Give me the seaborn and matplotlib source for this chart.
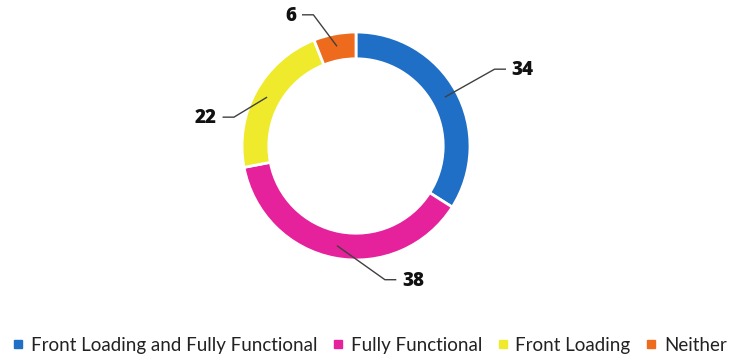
import numpy as np
import matplotlib
matplotlib.use("Agg")
import matplotlib.pyplot as plt
from matplotlib.lines import Line2D
import seaborn as sns

categories = ["Front Loading and Fully Functional", "Fully Functional",
              "Front Loading", "Neither"]
values = [34, 38, 22, 6]
colors = ["#1F6FC6", "#E5219B", "#EFEB2C", "#EE6B1E"]

sns.set_theme(style="white")
plt.rcParams["font.family"] = ["Lato", "DejaVu Sans"]

W, H = 744, 358
fig = plt.figure(figsize=(W / 100, H / 100), dpi=100)
ax = fig.add_axes([0, 0, 1, 1])

wedges, _ = ax.pie(values, colors=colors, startangle=90, counterclock=False,
                   radius=1.0,
                   wedgeprops=dict(width=0.235, edgecolor="white", linewidth=2))

# donut centre and radius in pixels, converted into data units
cx, cy, R = 356, 146, 114
ax.set_xlim(-cx / R, (W - cx) / R)
ax.set_ylim((cy - H) / R, cy / R)
ax.set_aspect("equal")
ax.axis("off")

# label layout: (elbow angle, elbow radius, text side)
layout = [
    (29.0, 1.39, "right"),
    (-77.8, 1.20, "right"),
    (166.7, 1.10, "left"),
    (108.0, 1.21, "left"),
]

for w, v, (ea, er, side) in zip(wedges, values, layout):
    mid = np.deg2rad((w.theta1 + w.theta2) / 2)
    tip = (0.89 * np.cos(mid), 0.89 * np.sin(mid))
    e = (er * np.cos(np.deg2rad(ea)), er * np.sin(np.deg2rad(ea)))
    dx = 0.10 if side == "right" else -0.10
    end = (e[0] + dx, e[1])
    ax.plot([tip[0], e[0], end[0]], [tip[1], e[1], end[1]],
            color="#404040", lw=1.0, solid_capstyle="butt")
    ax.text(end[0] + (0.05 if side == "right" else -0.05), end[1] - 0.01, str(v),
            ha="left" if side == "right" else "right", va="center",
            fontsize=13.5, fontweight="heavy", color="#111111",
            family=["Open Sans", "DejaVu Sans"])

handles = [Line2D([], [], marker="s", linestyle="none", markersize=5.2,
                  markerfacecolor=c, markeredgecolor=c) for c in colors]
fig.legend(handles, categories, loc="center", bbox_to_anchor=(0.497, 0.036),
           ncol=4, frameon=False, fontsize=13.5, handlelength=0.55,
           handletextpad=0.4, columnspacing=0.83, labelcolor="#222222")

fig.savefig("out.png", dpi=100, facecolor="white")
